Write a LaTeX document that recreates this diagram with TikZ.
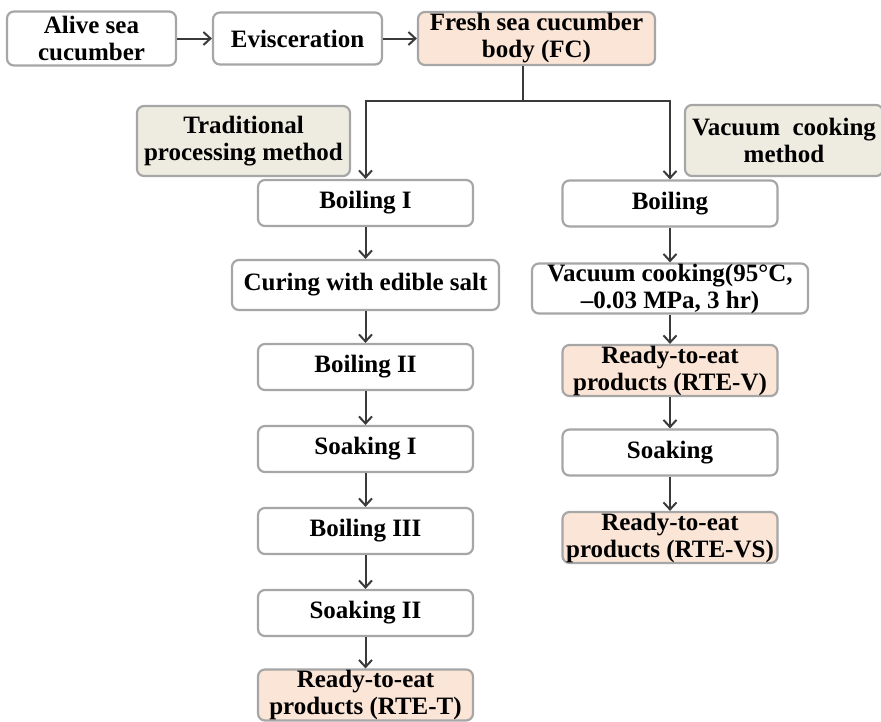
\documentclass[tikz,border=0pt]{standalone}
\usepackage{fontspec}
\usepackage{xcolor}
\usepackage{tikz}
\setmainfont{Liberation Serif}
\usetikzlibrary{arrows.meta}

\definecolor{boxline}{HTML}{A6A6A6}
\definecolor{peach}{HTML}{FBE5D6}
\definecolor{methodfill}{HTML}{EEECE1}
\definecolor{arrowline}{HTML}{3A3A3A}

\tikzset{
	stage/.style={draw=boxline, line width=2.2pt, rounded corners=7pt, fill=white,
		text=black, align=center, inner sep=0pt,
		font=\fontsize{25}{27}\selectfont\bfseries,
		minimum width=215pt, minimum height=46pt},
	product/.style={stage, fill=peach, minimum height=51pt},
	method/.style={stage, fill=methodfill, minimum height=70pt}
}

\begin{document}
\begin{tikzpicture}[x=1pt, y=-1pt, -> , >={Straight Barb[length=7pt,width=13pt]},
				line width=2pt, color=arrowline, node distance=82pt]
			\useasboundingbox (0, 0) rectangle (881, 721);

			\node[stage, minimum width=169pt, minimum height=54pt] (alive) at (91.5, 38.5) {Alive sea\\cucumber};
			\node[stage, minimum width=169pt, minimum height=52pt] (evis) at (297.5, 38.5) {Evisceration};
			\node[product, minimum width=237pt, minimum height=53pt] (fc) at (536.5, 38.5) {Fresh sea cucumber\\body (FC)};

			\node[method, minimum width=213pt] (trad) at (243.5, 141) {Traditional\\processing method};
			\node[method, minimum width=198pt, minimum height=71pt] (vacm) at (784, 140.5) {Vacuum\ \ cooking\\method};

			% traditional processing
			\node[stage] (boil1) at (365.5, 203) {Boiling I};
			\node[stage, minimum width=267pt, minimum height=50pt] (cure) [below of=boil1] {Curing with edible salt};
			\node[stage] (boil2) [below of=cure] {Boiling II};
			\node[stage] (soak1) [below of=boil2] {Soaking I};
			\node[stage] (boil3) [below of=soak1] {Boiling III};
			\node[stage] (soak2) [below of=boil3] {Soaking II};
			\node[product] (rtet) [below of=soak2] {Ready-to-eat\\products (RTE-T)};

			% vacuum cooking
			\node[stage] (boil) at (670, 203.5) {Boiling};
			\node[stage, minimum width=276pt, minimum height=50pt] (vac) [below of=boil, node distance=85pt] {Vacuum cooking(95°C,\\–0.03 MPa, 3 hr)};
			\node[product] (rtev) [below of=vac] {Ready-to-eat\\products (RTE-V)};
			\node[stage] (soak) [below of=rtev] {Soaking};
			\node[product] (rtevs) [below of=soak, node distance=85pt] {Ready-to-eat\\products (RTE-VS)};

			\draw (alive) -- (evis);
			\draw (evis) -- (fc);

			\coordinate (split) at (523, 101);
			\draw[-] (fc.south -| split) -- (split);
			\draw (split) -| (boil1);
			\draw (split) -| (boil);

			\foreach \a/\b in {boil1/cure, cure/boil2, boil2/soak1, soak1/boil3, boil3/soak2, soak2/rtet,
					boil/vac, vac/rtev, rtev/soak, soak/rtevs} {
					\draw (\a) -- (\b);
				}
		\end{tikzpicture}
\end{document}
